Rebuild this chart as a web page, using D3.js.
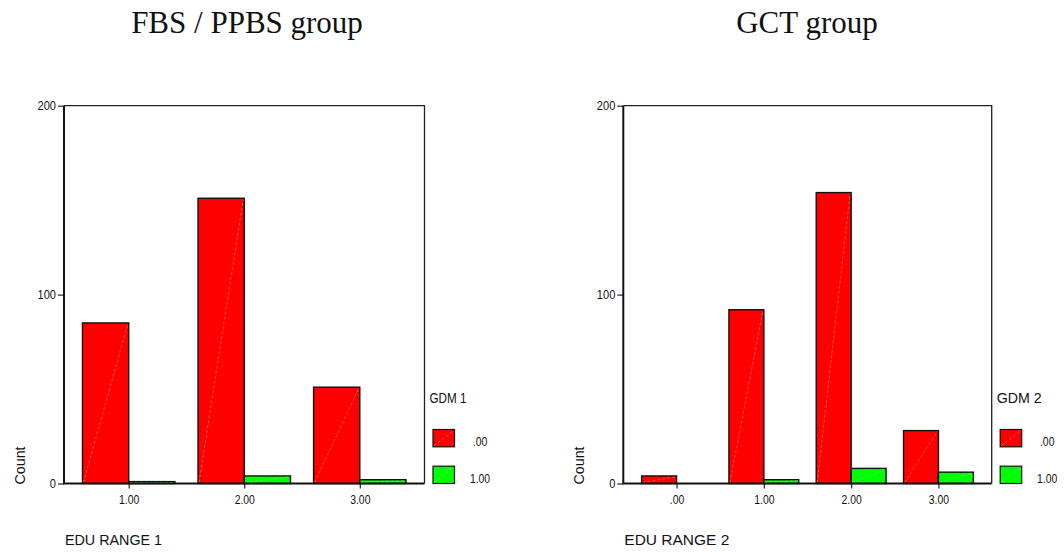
<!DOCTYPE html>
<html>
<head>
<meta charset="utf-8">
<script src="https://cdn.jsdelivr.net/npm/d3@7"></script>
<style>
  html, body { margin: 0; padding: 0; background: #fff; }
  svg { display: block; }
  text { font-family: Arial, "Liberation Sans", sans-serif; fill: #111; }
  .title { font-family: "Times New Roman", "Liberation Serif", serif; font-size: 31px; }
</style>
</head>
<body>
<svg id="chart" width="1064" height="552"></svg>
<script>
// ---------- data ----------
const titles = ["FBS / PPBS group", "GCT group"];
const xAxisTitles = ["EDU RANGE 1", "EDU RANGE  2"];
const legendTitles = ["GDM 1", "GDM 2"];
const seriesLabels = [".00", "1.00"];
const seriesColors = ["#ff0000", "#00ff00"];
const yTicks = [0, 100, 200];

const leftCategories = ["1.00", "2.00", "3.00"];
const leftNoGdm = [85, 151, 51];
const leftGdm = [1, 4, 2];

const rightCategories = [".00", "1.00", "2.00", "3.00"];
const rightNoGdm = [4, 92, 154, 28];
const rightGdm = [0, 2, 8, 6];

// ---------- layout ----------
const svg = d3.select("#chart");
const panels = [
  { cats: leftCategories, s0: leftNoGdm, s1: leftGdm, x0: 64, x1: 424.5, pad: 0.56, titleX: 247, xTitleW: 97, legW: 37 },
  { cats: rightCategories, s0: rightNoGdm, s1: rightGdm, x0: 623.3, x1: 991.7, pad: 0.61, titleX: 807, xTitleW: 105, legW: 45 }
];
const yTop = 105.7, yBot = 483.5;
const squeeze = (sel, f) => sel.each(function () {
  const w = this.getComputedTextLength();
  d3.select(this).attr("textLength", w * f).attr("lengthAdjust", "spacingAndGlyphs");
});

panels.forEach((p, pi) => {
  const g = svg.append("g");
  const y = d3.scaleLinear().domain([0, 200]).range([yBot, yTop]);
  const x = d3.scalePoint().domain(p.cats).range([p.x0, p.x1]).padding(p.pad);
  const bw = x.step() * 0.4;

  // title
  svg.append("text").attr("class", "title").attr("x", p.titleX).attr("y", 33)
    .attr("text-anchor", "middle").text(titles[pi]);

  // frame top/right
  g.append("path").attr("d", `M${p.x0},${yTop}H${p.x1}V${yBot}`)
    .attr("fill", "none").attr("stroke", "#222").attr("stroke-width", 1.3);

  // bars
  const rows = p.cats.map((c, i) => ({ c, v: [p.s0[i], p.s1[i]] }));
  rows.forEach(r => {
    r.v.forEach((v, si) => {
      if (v <= 0) return;
      const bx = x(r.c) + (si === 0 ? -bw : 0);
      const by = y(v);
      g.append("rect").attr("x", bx).attr("y", by).attr("width", bw).attr("height", yBot - by)
        .attr("fill", seriesColors[si]).attr("stroke", "#111").attr("stroke-width", 1.4);
      g.append("line").attr("x1", bx + 1).attr("y1", yBot - 1).attr("x2", bx + bw - 1).attr("y2", by + 1)
        .attr("stroke", "#fff").attr("stroke-width", 0.7).attr("stroke-dasharray", "3,2").attr("opacity", 0.45);
    });
  });

  // y axis
  const ya = g.append("g").attr("transform", `translate(${p.x0},0)`)
    .call(d3.axisLeft(y).tickValues(yTicks).tickSize(6).tickPadding(2).tickFormat(d3.format("d")));
  ya.select(".domain").remove();
  ya.selectAll(".tick line").attr("stroke", "#222").attr("stroke-width", 1.2);
  ya.selectAll(".tick text").attr("font-size", 13).attr("font-family", "Arial, 'Liberation Sans', sans-serif").call(squeeze, 0.85);

  // x axis
  const xa = g.append("g").attr("transform", `translate(0,${yBot})`)
    .call(d3.axisBottom(x).tickSize(5).tickPadding(6));
  xa.select(".domain").remove();
  xa.selectAll(".tick line").attr("stroke", "#222").attr("stroke-width", 1.2);
  xa.selectAll(".tick text").attr("font-size", 13).attr("font-family", "Arial, 'Liberation Sans', sans-serif").call(squeeze, 0.8);

  // main axis lines
  g.append("path").attr("d", `M${p.x0},${yTop}V${yBot}H${p.x1}`)
    .attr("fill", "none").attr("stroke", "#111").attr("stroke-width", 2);

  // Count label
  g.append("text").attr("transform", `translate(${p.x0 - 39.5},${yBot + 1}) rotate(-90)`)
    .attr("font-size", 15).text("Count").call(squeeze, 0.95);

  // x axis title
  g.append("text").attr("x", p.x0 + 1).attr("y", 545).attr("font-size", 14)
    .attr("textLength", p.xTitleW).attr("lengthAdjust", "spacingAndGlyphs")
    .text(xAxisTitles[pi]);

  // legend
  const lx = p.x1 + 8.5;
  g.append("text").attr("x", p.x1 + 5).attr("y", 403).attr("font-size", 14)
    .attr("textLength", p.legW).attr("lengthAdjust", "spacingAndGlyphs")
    .text(legendTitles[pi]);
  seriesLabels.forEach((lab, si) => {
    const sy = 429.5 + si * 36.7;
    g.append("rect").attr("x", lx).attr("y", sy).attr("width", 21.5).attr("height", 17.3)
      .attr("fill", seriesColors[si]).attr("stroke", "#111").attr("stroke-width", 1.2);
    g.append("line").attr("x1", lx + 1).attr("y1", sy + 16.3).attr("x2", lx + 20.5).attr("y2", sy + 1)
      .attr("stroke", "#fff").attr("stroke-width", 0.7).attr("stroke-dasharray", "3,2").attr("opacity", 0.45);
    g.append("text").attr("x", lx + 47).attr("y", sy + 16.5).attr("text-anchor", "middle")
      .attr("font-size", 13).text(lab).call(squeeze, 0.8);
  });
});
</script>
</body>
</html>
